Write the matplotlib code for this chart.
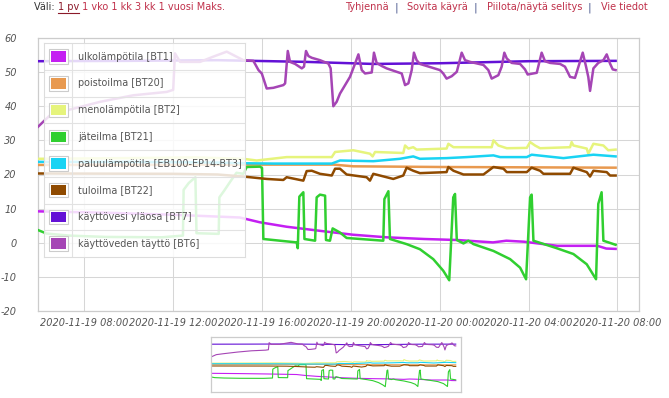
import matplotlib
matplotlib.use("Agg")
import matplotlib.pyplot as plt
from matplotlib.lines import Line2D
from matplotlib.patches import Rectangle
import pandas as pd

# ---------------- data (hours since 2020-11-19 00:00) ----------------
bt1_h = [5.92, 9.0, 12.0, 15.0, 15.9, 17.1, 18.6, 20.1, 21.6, 23.3, 24.8, 26.4, 27.0, 27.8, 29.3, 31.1, 31.5, 31.92]
bt1_v = [9.2, 8.8, 8.2, 7.4, 6.0, 4.7, 3.5, 2.35, 1.6, 1.1, 0.8, 0.1, 0.6, 0.3, -0.9, -0.9, -1.7, -1.8]

bt20_h = [5.92, 10.0, 15.16, 19.21, 20.11, 24.0, 31.92]
bt20_v = [22.8, 22.8, 22.9, 22.9, 22.4, 22.2, 22.0]

bt2_h = [5.92, 10.0, 13.0, 15.16, 15.76, 17.11, 19.14, 19.29, 20.11, 20.86, 20.98, 21.09, 22.36, 22.44,
         22.59, 22.81, 22.96, 24.31, 24.39, 24.62, 26.34, 26.42, 26.64, 27.02, 27.92, 28.07, 28.29, 28.52,
         29.87, 29.94, 30.02, 30.62, 30.69, 30.92, 31.37, 31.59, 31.92]
bt2_v = [24.6, 24.8, 25.0, 24.6, 24.1, 25.1, 25.1, 26.6, 27.1, 26.1, 25.3, 26.6, 26.3, 28.5,
         27.6, 28.0, 27.3, 27.6, 29.0, 28.0, 28.0, 30.0, 28.5, 27.7, 27.8, 29.5, 28.5, 27.7,
         28.0, 29.5, 28.5, 27.6, 26.1, 29.0, 28.5, 27.1, 27.3]

bt21_h = [5.92, 6.3, 7.3, 9.0, 11.5, 12.44, 12.47, 12.7, 13.0, 13.05, 14.05, 14.08, 14.3, 14.6, 14.85,
          15.16, 15.31, 15.91, 16.0, 16.06, 17.56, 17.61, 17.68, 17.79, 17.86, 17.91, 18.39, 18.46, 18.61,
          18.84, 18.88, 19.06, 19.18, 19.51, 19.81, 21.46, 21.51, 21.69, 21.76, 22.51, 23.11, 23.71, 24.16,
          24.43, 24.61, 24.69, 24.77, 25.07, 25.29, 25.52, 26.42, 27.17, 27.62, 27.89, 28.07, 28.14, 28.22,
          29.27, 30.02, 30.62, 31.04, 31.14, 31.29, 31.37, 31.92]
bt21_v = [3.7, 2.7, 2.1, 1.7, 1.6, 2.1, 15.5, 17.5, 19.2, 2.8, 2.6, 13.3, 15.3, 18.2, 20.5,
          20.2, 22.2, 22.3, 21.9, 1.1, 0.1, -1.6, 13.5, 14.3, 14.8, 1.1, 0.6, 13.3, 14.1,
          13.8, 0.8, 0.6, 4.2, 3.0, 1.4, 0.6, 12.8, 15.1, 1.1, -0.4, -1.9, -4.8, -8.2,
          -11.0, 13.3, 14.3, 0.8, -0.2, 0.6, -0.4, -2.4, -4.8, -7.3, -10.7, 13.3, 14.1, 0.6,
          -1.6, -3.3, -6.3, -10.7, 11.4, 14.8, 0.6, -0.6]

bt3_h = [5.92, 10.0, 14.0, 15.16, 16.5, 19.14, 19.51, 21.01, 22.21, 22.81, 23.11, 24.31, 25.22, 26.42,
         26.72, 27.92, 28.14, 29.57, 30.92, 31.92]
bt3_v = [23.7, 23.7, 23.5, 23.3, 23.2, 23.2, 24.1, 23.9, 24.6, 25.3, 24.6, 24.8, 25.1, 25.6,
         25.1, 25.1, 25.8, 24.8, 25.8, 25.3]

bt22_h = [5.92, 12.0, 14.0, 15.16, 16.21, 16.96, 17.11, 17.86, 18.01, 18.24, 18.61, 19.14, 19.29, 19.51,
          19.81, 20.71, 20.86, 21.01, 21.61, 21.91, 22.36, 22.51, 22.81, 23.11, 24.31, 24.39, 24.62,
          25.07, 25.97, 26.42, 26.87, 27.02, 27.92, 28.14, 28.52, 28.67, 29.87, 30.02, 30.62, 30.77,
          30.92, 31.52, 31.67, 31.92]
bt22_v = [20.3, 20.2, 20.0, 19.4, 18.7, 18.4, 19.2, 18.2, 21.0, 21.1, 20.2, 19.7, 21.7, 21.7,
          20.0, 19.2, 18.2, 20.2, 19.2, 18.7, 19.7, 22.0, 21.1, 20.4, 20.7, 22.2, 21.1,
          20.0, 20.0, 22.2, 21.7, 20.7, 20.7, 22.0, 21.1, 20.2, 20.2, 22.0, 20.7, 19.4,
          21.1, 20.7, 19.7, 19.7]

bt7_h = [5.92, 10.0, 14.0, 18.0, 21.0, 24.0, 28.0, 31.92]
bt7_v = [53.2, 53.3, 53.5, 53.0, 52.4, 52.6, 53.2, 53.3]

bt6_h = [5.90, 6.46, 7.21, 8.71, 10.19, 11.71, 12.0, 12.08, 12.31, 13.21, 13.79, 14.41, 15.01,
         15.16, 15.61, 15.84, 15.99, 16.21, 16.51, 16.96, 17.04, 17.16, 17.26, 17.49, 17.79, 17.89,
         17.98, 18.09, 18.24, 18.61, 18.99, 19.09, 19.21, 19.36, 19.51, 19.74, 19.96, 20.19, 20.34,
         20.49, 20.64, 20.94, 21.04, 21.16, 21.39, 21.61, 22.06, 22.29, 22.44, 22.59, 22.74, 22.84,
         22.96, 23.11, 23.41, 24.01, 24.16, 24.31, 24.54, 24.77, 24.99, 25.14, 25.37, 25.97, 26.19,
         26.34, 26.64, 26.79, 26.91, 27.02, 27.24, 27.62, 27.84, 27.96, 28.37, 28.59, 28.74, 28.97,
         29.42, 29.64, 29.87, 30.09, 30.29, 30.44, 30.59, 30.69, 30.77, 30.92, 31.14, 31.37, 31.52,
         31.67, 31.79, 31.92]
bt6_v = [33.9, 37.4, 38.8, 41.3, 43.2, 44.2, 44.8, 55.5, 53.0, 53.0, 54.5, 56.0, 54.0,
         53.5, 53.3, 50.6, 49.6, 45.2, 45.4, 46.2, 46.7, 56.2, 53.0, 52.4, 51.1, 51.6,
         56.2, 54.7, 54.2, 53.5, 52.5, 51.1, 40.0, 41.3, 43.7, 46.2, 48.6, 52.5, 55.2,
         50.6, 49.6, 49.9, 55.7, 52.7, 51.8, 51.1, 50.1, 49.6, 46.2, 46.7, 50.6, 55.7,
         53.5, 52.4, 51.8, 50.6, 49.6, 48.1, 48.8, 50.1, 55.7, 53.5, 53.0, 52.1, 50.6,
         48.1, 49.1, 51.6, 55.7, 54.0, 52.7, 52.4, 50.8, 49.3, 49.8, 55.7, 53.2, 52.7,
         52.4, 51.6, 48.6, 48.3, 52.5, 55.7, 51.6, 48.6, 44.5, 51.1, 52.7, 53.5, 55.2,
         52.5, 50.8, 50.6]

series_labels = ["ulkolämpötila [BT1]", "poistoilma [BT20]", "menolämpötila [BT2]", "jäteilma [BT21]",
                 "paluulämpötila [EB100-EP14-BT3]", "tuloilma [BT22]", "käyttövesi yläosa [BT7]",
                 "käyttöveden täyttö [BT6]"]
series_colors = ["#c41ff2", "#e8994f", "#e6f47c", "#30cf30", "#19d3f3", "#8f4a00", "#6311d6", "#a545b5"]
series_h = [bt1_h, bt20_h, bt2_h, bt21_h, bt3_h, bt22_h, bt7_h, bt6_h]
series_v = [bt1_v, bt20_v, bt2_v, bt21_v, bt3_v, bt22_v, bt7_v, bt6_v]

x_ticks = ["2020-11-19 08:00", "2020-11-19 12:00", "2020-11-19 16:00", "2020-11-19 20:00",
           "2020-11-20 00:00", "2020-11-20 04:00", "2020-11-20 08:00"]
y_ticks = [60, 50, 40, 30, 20, 10, 0, -10, -20]

header_left = [("Väli: ", "#333333"), ("1 pv", "#8b1a2a"), (" 1 vko 1 kk 3 kk 1 vuosi Maks.", "#c0304a")]
header_right = ["Tyhjennä", "Sovita käyrä", "Piilota/näytä selitys", "Vie tiedot"]

# ---------------- figure ----------------
W, H = 669, 398
fig = plt.figure(figsize=(W / 100, H / 100), dpi=100)
fig.patch.set_facecolor("white")

base = pd.Timestamp("2020-11-19 00:00")
def to_t(hours):
    return base + pd.to_timedelta(hours, unit="h")

def px_axes(x0, y0, x1, y1, **kw):
    return fig.add_axes([x0 / W, 1 - y1 / H, (x1 - x0) / W, (y1 - y0) / H], **kw)

grid_c = "#d6d6d6"
frame_c = "#cccccc"
tick_c = "#545454"

ax = px_axes(37.7, 38, 638.7, 311)
for h, v, c in zip(series_h, series_v, series_colors):
    ax.plot(to_t(h), v, color=c, lw=1.8, solid_joinstyle="round", zorder=3)

ax.set_xlim(to_t(5.90), to_t(32.96))
ax.set_ylim(-20, 60)
ax.set_yticks(y_ticks)
ax.set_yticklabels([str(t) for t in y_ticks])
tick_times = [pd.Timestamp(s) for s in x_ticks]
ax.set_xticks(tick_times)
ax.set_xticklabels(x_ticks)
ax.grid(True, color=grid_c, lw=0.75, zorder=0)
ax.set_axisbelow(True)
for s in ax.spines.values():
    s.set_color(frame_c)
    s.set_linewidth(0.9)
ax.tick_params(length=0, colors=tick_c)
ax.tick_params(axis="y", pad=15)
ax.tick_params(axis="x", pad=5)
for lbl in ax.get_xticklabels() + ax.get_yticklabels():
    lbl.set_fontstyle("italic")
    lbl.set_fontsize(7)
    lbl.set_color(tick_c)

# ---------------- legend (manual, semi-transparent) ----------------
lx0, ly0, lx1, ly1 = 44, 43.3, 245, 257
lg = px_axes(lx0, ly0, lx1, ly1)
lg.set_zorder(5)
lg.set_xlim(lx0, lx1)
lg.set_ylim(ly1, ly0)
lg.patch.set_facecolor("white")
lg.patch.set_alpha(0.84)
lg.set_xticks([])
lg.set_yticks([])
for s in lg.spines.values():
    s.set_color("#dddddd")
    s.set_linewidth(0.8)
row_h = (ly1 - ly0) / len(series_labels)
lg.plot([72, 72], [ly0, ly1], color="#e2e2e2", lw=0.8)
for i, (lab, c) in enumerate(zip(series_labels, series_colors)):
    top = ly0 + i * row_h
    if i > 0:
        lg.plot([lx0, lx1], [top, top], color="#e2e2e2", lw=0.8)
    cy = top + row_h / 2
    lg.add_patch(Rectangle((48.7, cy - 7.2), 19, 14.4, facecolor="white", edgecolor="#cccccc", lw=0.8))
    lg.add_patch(Rectangle((50.7, cy - 5.2), 15, 10.4, facecolor=c, edgecolor="none"))
    lg.text(78.5, cy, lab, fontsize=6.9, color="#545454", va="center", ha="left")

# ---------------- overview ----------------
ov = px_axes(211, 337.3, 461, 392)
for h, v, c in zip(series_h, series_v, series_colors):
    ov.plot(to_t(h), v, color=c, lw=0.8)
ov.set_xlim(to_t(5.90), to_t(32.48))
ov.set_ylim(-19, 63.6)
ov.set_xticks([])
ov.set_yticks([])
for s in ov.spines.values():
    s.set_color(frame_c)
    s.set_linewidth(0.9)

# ---------------- header ----------------
fig.canvas.draw()
renderer = fig.canvas.get_renderer()

def put(x, y, s, color, **kw):
    t = fig.text(x / W, 1 - y / H, s, color=color, fontsize=7, va="center", ha="left", **kw)
    bb = t.get_window_extent(renderer)
    return t, bb.width

x = 34
for s, c in header_left:
    t, w = put(x, 7.5, s, c)
    if s == "1 pv":
        fig.add_artist(Line2D([x / W, (x + w) / W], [1 - 12.5 / H, 1 - 12.5 / H], color=c, lw=0.8))
    x += w

x = 345
for i, s in enumerate(header_right):
    t, w = put(x, 7.5, s, "#c0304a")
    x += w
    if i < len(header_right) - 1:
        t, w = put(x, 7.5, "  |   ", "#2a3a7a")
        x += w

fig.savefig("out.png", dpi=100, facecolor="white")
